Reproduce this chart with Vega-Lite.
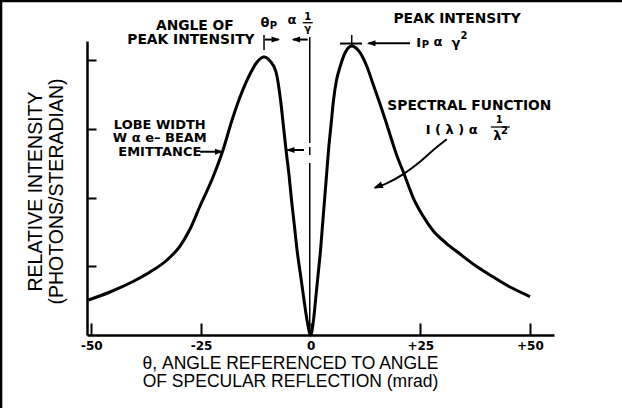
{
  "$schema": "https://vega.github.io/schema/vega-lite/v6.json",
  "width": 467,
  "height": 294,
  "autosize": "none",
  "padding": {"left": 87, "top": 41, "right": 68, "bottom": 73},
  "background": "white",
  "config": {"view": {"stroke": null}, "font": "Liberation Sans"},
  "datasets": {
    "curve": [
      {"x": -50.70, "y": 0.509}, {"x": -45.75, "y": 0.626}, {"x": -40.50, "y": 0.779}, {"x": -36.62, "y": 0.917},
      {"x": -32.75, "y": 1.092}, {"x": -29.78, "y": 1.295}, {"x": -27.50, "y": 1.543}, {"x": -25.22, "y": 1.878},
      {"x": -22.26, "y": 2.300}, {"x": -19.98, "y": 2.693}, {"x": -17.92, "y": 3.130}, {"x": -16.10, "y": 3.464},
      {"x": -13.82, "y": 3.799}, {"x": -12.22, "y": 3.974}, {"x": -10.63, "y": 4.047}, {"x": -9.24, "y": 3.988},
      {"x": -7.89, "y": 3.828}, {"x": -6.86, "y": 3.421}, {"x": -6.23, "y": 3.057}, {"x": -5.61, "y": 2.693},
      {"x": -4.93, "y": 2.329}, {"x": -4.36, "y": 1.965}, {"x": -3.72, "y": 1.601}, {"x": -3.10, "y": 1.237},
      {"x": -2.30, "y": 0.873}, {"x": -1.51, "y": 0.509}, {"x": -0.75, "y": 0.189}, {"x": 0, "y": 0},
      {"x": 0.66, "y": 0.218}, {"x": 1.12, "y": 0.509}, {"x": 1.69, "y": 0.873}, {"x": 2.26, "y": 1.237},
      {"x": 2.71, "y": 1.601}, {"x": 3.17, "y": 1.965}, {"x": 3.63, "y": 2.329}, {"x": 4.08, "y": 2.693},
      {"x": 4.65, "y": 3.057}, {"x": 5.22, "y": 3.421}, {"x": 5.91, "y": 3.712}, {"x": 6.70, "y": 3.901},
      {"x": 7.84, "y": 4.105}, {"x": 9.37, "y": 4.207}, {"x": 10.81, "y": 4.148}, {"x": 12.79, "y": 3.916},
      {"x": 14.23, "y": 3.654}, {"x": 15.83, "y": 3.362}, {"x": 17.19, "y": 3.100}, {"x": 18.49, "y": 2.838},
      {"x": 19.70, "y": 2.606}, {"x": 21.14, "y": 2.373}, {"x": 23.42, "y": 1.994}, {"x": 25.63, "y": 1.732},
      {"x": 27.98, "y": 1.514}, {"x": 30.88, "y": 1.339}, {"x": 34.07, "y": 1.179}, {"x": 37.72, "y": 1.004},
      {"x": 41.66, "y": 0.844}, {"x": 45.70, "y": 0.691}, {"x": 50.03, "y": 0.560}
    ],
    "vrules": [
      {"x": -10.63, "y": 4.148, "y2": 4.367},
      {"x": 9.37, "y": 4.192, "y2": 4.367},
      {"x": -0.2, "y": 4.338, "y2": 2.795},
      {"x": -0.2, "y": 2.737, "y2": 2.620},
      {"x": -0.2, "y": 2.504, "y2": 0.03}
    ],
    "hrules": [
      {"x": -10.4, "x2": -7.3, "y": 4.301},
      {"x": -0.66, "x2": -4.0, "y": 4.301},
      {"x": 22.67, "x2": 13.2, "y": 4.246},
      {"x": -25.22, "x2": -20.3, "y": 2.668},
      {"x": -1.51, "x2": -5.3, "y": 2.693},
      {"x": 6.70, "x2": 11.72, "y": 4.243}
    ],
    "fracbars": [
      {"x": -1.80, "x2": 0.48, "y": 4.546},
      {"x": 41.1, "x2": 45.4, "y": 3.028}
    ],
    "curvedarrow": [
      {"x": 31.04, "y": 2.849}, {"x": 27.98, "y": 2.693}, {"x": 24.95, "y": 2.523},
      {"x": 21.14, "y": 2.343}, {"x": 17.33, "y": 2.208}, {"x": 14.69, "y": 2.144}
    ],
    "headsright": [
      {"x": -6.98, "y": 4.301},
      {"x": -19.91, "y": 2.668}
    ],
    "headsleft": [
      {"x": -4.31, "y": 4.301},
      {"x": 12.86, "y": 4.246},
      {"x": -5.61, "y": 2.693}
    ],
    "headcurve": [
      {"x": 14.30, "y": 2.135}
    ],
    "labels": [
      {"x": -26.4, "y": 4.50, "t": "ANGLE OF"},
      {"x": -27.3, "y": 4.29, "t": "PEAK INTENSITY"},
      {"x": 33.4, "y": 4.60, "t": "PEAK INTENSITY"},
      {"x": 36.2, "y": 3.333, "t": "SPECTRAL FUNCTION"}
    ],
    "lobe": [
      {"x": -34.4, "y": 3.064, "t": "LOBE WIDTH\nW α e– BEAM\nEMITTANCE"}
    ],
    "math": [
      {"x": -10.40, "y": 4.541, "t": "θ"},
      {"x": -4.24, "y": 4.592, "t": "α"},
      {"x": 24.65, "y": 4.250, "t": "I"},
      {"x": 29.05, "y": 4.272, "t": "α"},
      {"x": 33.16, "y": 4.250, "t": "γ"},
      {"x": 32.18, "y": 2.984, "t": "I ( λ ) α"},
      {"x": 42.6, "y": 2.897, "t": "λ"}
    ],
    "small": [
      {"x": -8.46, "y": 4.498, "t": "P"},
      {"x": -0.66, "y": 4.629, "t": "1"},
      {"x": -0.66, "y": 4.461, "t": "γ"},
      {"x": 26.2, "y": 4.221, "t": "P"},
      {"x": 34.98, "y": 4.352, "t": "2"},
      {"x": 43.03, "y": 3.13, "t": "1"},
      {"x": 44.2, "y": 2.97, "t": "2"}
    ],
    "frameh": [
      {"x": -70.83, "x2": 71.0, "y": 4.862}
    ],
    "framev": [
      {"x": -70.6, "y": -1.07, "y2": 4.876}
    ]
  },
  "encoding": {
    "x": {
      "field": "x", "type": "quantitative",
      "scale": {"domain": [-51, 55.5], "nice": false, "zero": false},
      "axis": {
        "values": [-50, -25, 0, 25, 50],
        "grid": false,
        "tickSize": -12, "tickWidth": 2, "tickColor": "black",
        "domainColor": "black", "domainWidth": 2.5,
        "labelFont": "DejaVu Sans", "labelFontWeight": "bold", "labelFontSize": 12, "labelColor": "black",
        "labelPadding": 17,
        "labelExpr": "datum.value > 0 ? '+' + datum.value : (datum.value < 0 ? '-' + abs(datum.value) : '0')",
        "title": ["θ, ANGLE REFERENCED TO ANGLE", "OF SPECULAR REFLECTION (mrad)"],
        "titleFont": "Liberation Sans", "titleFontSize": 17.5, "titleFontWeight": "normal", "titleColor": "black",
        "titleX": 203, "titleY": 19, "titleBaseline": "top", "titleAlign": "center", "titleLineHeight": 18
      }
    },
    "y": {
      "field": "y", "type": "quantitative",
      "scale": {"domain": [0, 4.28], "nice": false, "zero": false},
      "axis": {
        "values": [1, 2, 3, 4],
        "grid": false, "labels": false,
        "tickSize": -9, "tickWidth": 2, "tickColor": "black",
        "domainColor": "black", "domainWidth": 2.5,
        "title": ["RELATIVE INTENSITY", "(PHOTONS/STERADIAN)"],
        "titleFont": "Liberation Sans", "titleFontSize": 19.5, "titleFontWeight": "normal", "titleColor": "black",
        "titleX": -42, "titleY": 150, "titleAlign": "center", "titleLineHeight": 21
      }
    }
  },
  "layer": [
    {
      "data": {"name": "curve"},
      "mark": {"type": "line", "color": "black", "strokeWidth": 3, "interpolate": "monotone"}
    },
    {
      "data": {"name": "vrules"},
      "mark": {"type": "rule", "color": "black", "strokeWidth": 1.5},
      "encoding": {"y2": {"field": "y2"}}
    },
    {
      "data": {"name": "hrules"},
      "mark": {"type": "rule", "color": "black", "strokeWidth": 2},
      "encoding": {"x2": {"field": "x2"}}
    },
    {
      "data": {"name": "fracbars"},
      "mark": {"type": "rule", "color": "black", "strokeWidth": 1.3},
      "encoding": {"x2": {"field": "x2"}}
    },
    {
      "data": {"name": "curvedarrow"},
      "mark": {"type": "line", "color": "black", "strokeWidth": 2, "interpolate": "monotone"}
    },
    {
      "data": {"name": "headsright"},
      "mark": {"type": "point", "shape": "M0,0L-2.4,-0.85L-2.4,0.85Z", "size": 49, "filled": true, "opacity": 1, "color": "black", "angle": 0}
    },
    {
      "data": {"name": "headsleft"},
      "mark": {"type": "point", "shape": "M0,0L-2.4,-0.85L-2.4,0.85Z", "size": 49, "filled": true, "opacity": 1, "color": "black", "angle": 180}
    },
    {
      "data": {"name": "headcurve"},
      "mark": {"type": "point", "shape": "M0,0L-2.4,-0.85L-2.4,0.85Z", "size": 64, "filled": true, "opacity": 1, "color": "black", "angle": 158}
    },
    {
      "data": {"name": "labels"},
      "mark": {"type": "text", "font": "DejaVu Sans", "fontWeight": "bold", "fontSize": 13.8, "color": "black", "align": "center", "baseline": "middle"},
      "encoding": {"text": {"field": "t"}}
    },
    {
      "data": {"name": "lobe"},
      "mark": {"type": "text", "font": "DejaVu Sans", "fontWeight": "bold", "fontSize": 13, "color": "black", "align": "center", "baseline": "middle", "lineBreak": "\n", "lineHeight": 13.5},
      "encoding": {"text": {"field": "t"}}
    },
    {
      "data": {"name": "math"},
      "mark": {"type": "text", "font": "DejaVu Sans", "fontWeight": "bold", "fontSize": 13, "color": "black", "align": "center", "baseline": "middle"},
      "encoding": {"text": {"field": "t"}}
    },
    {
      "data": {"name": "small"},
      "mark": {"type": "text", "font": "DejaVu Sans", "fontWeight": "bold", "fontSize": 10, "color": "black", "align": "center", "baseline": "middle"},
      "encoding": {"text": {"field": "t"}}
    },
    {
      "data": {"name": "frameh"},
      "mark": {"type": "rule", "color": "black", "strokeWidth": 2.5},
      "encoding": {"x2": {"field": "x2"}}
    },
    {
      "data": {"name": "framev"},
      "mark": {"type": "rule", "color": "black", "strokeWidth": 2.5},
      "encoding": {"y2": {"field": "y2"}}
    }
  ]
}
